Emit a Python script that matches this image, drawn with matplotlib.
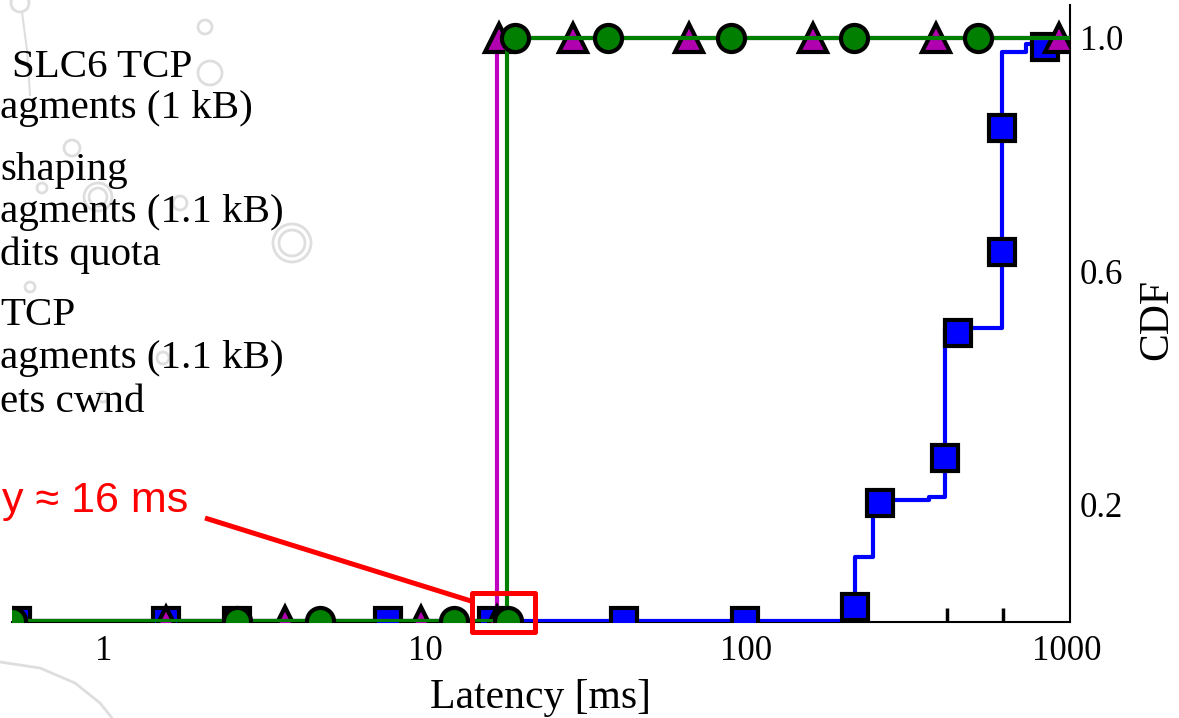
import matplotlib
matplotlib.use("Agg")
import matplotlib.pyplot as plt
from matplotlib.lines import Line2D
from matplotlib.patches import Rectangle, Ellipse
from matplotlib.ticker import FixedLocator, NullFormatter

W, H = 1179, 718

# CDF step curves (latency in ms, cumulative fraction)
blue_x = [0.517, 219, 249, 372, 417, 628, 745, 900, 1021]
blue_y = [0.0, 0.11, 0.208, 0.212, 0.503, 0.976, 0.99, 1.0, 1.0]
magenta_x = [0.517, 16.7, 1021]
magenta_y = [0.0, 1.0, 1.0]
green_x = [0.517, 18.0, 1021]
green_y = [0.0, 1.0, 1.0]

# marker points
sq_x = [0.536, 1.56, 2.60, 7.67, 16.2, 41.7, 99.3, 219, 261, 417, 458, 628, 628, 854]
sq_y = [0, 0, 0, 0, 0, 0, 0, 0.024, 0.202, 0.28, 0.494, 0.633, 0.846, 0.985]
tri_x = [1.56, 3.66, 9.72, 16.7, 17.0, 28.9, 66.4, 162, 391, 944]
tri_y = [0, 0, 0, 0, 1, 1, 1, 1, 1, 1]
circ_x = [0.517, 2.60, 4.71, 12.3, 18.1, 19.1, 37.2, 89.8, 217, 528]
circ_y = [0, 0, 0, 0, 0, 1, 1, 1, 1, 1]

xticks = [1, 10, 100, 1000]
xtick_labels = ["1", "10", "100", "1000"]
yticks = [0.2, 0.6, 1.0]
ytick_labels = ["0.2", "0.6", "1.0"]

legend_lines = [
    ("SLC6 TCP", 12, 77),
    ("agments (1 kB)", 0, 118),
    ("shaping", 0, 180),
    ("agments (1.1 kB)", 0, 222),
    ("dits quota", 0, 265),
    ("TCP", 0, 325),
    ("agments (1.1 kB)", 0, 368),
    ("ets cwnd", 0, 412),
]

serif = "Liberation Serif"
sans = "Liberation Sans"

fig = plt.figure(figsize=(W / 100, H / 100), dpi=100)


def fx(px):
    return px / W


def fy(py):
    return 1 - py / H


# faint background decoration
deco = "#dedede"
rings = [(20, 3, 9), (205, 27, 7), (210, 73, 12), (72, 148, 8), (42, 188, 5),
         (98, 197, 14), (98, 197, 9), (180, 203, 7), (292, 243, 19),
         (292, 243, 13), (30, 287, 5), (163, 358, 6), (103, 397, 5)]
for px, py, r in rings:
    fig.add_artist(Ellipse((fx(px), fy(py)), 2 * r / W, 2 * r / H,
                           transform=fig.transFigure, fill=False,
                           edgecolor=deco, lw=2, zorder=0))
fig.add_artist(Line2D([fx(22), fx(27), fx(30)], [fy(12), fy(50), fy(95)],
                      transform=fig.transFigure, color=deco, lw=1.5, zorder=0))
fig.add_artist(Line2D([fx(0), fx(40), fx(75), fx(100), fx(112)],
                      [fy(662), fy(668), fy(683), fy(703), fy(718)],
                      transform=fig.transFigure, color=deco, lw=2, zorder=0))

ax = fig.add_axes([fx(12), 1 - 622 / H, (1070 - 12) / W, (622 - 5) / H])
ax.patch.set_alpha(0)

ms = 18.5
mew = 3
ax.plot(blue_x, blue_y, drawstyle="steps-post", color="#0000ff", lw=3, zorder=2)
ax.plot(sq_x, sq_y, ls="none", marker="s", ms=ms, mfc="#0000ff", mec="black",
        mew=mew, zorder=2.1)
ax.plot(magenta_x, magenta_y, drawstyle="steps-post", color="#c000c0", lw=3, zorder=2.2)
ax.plot(tri_x, tri_y, ls="none", marker="^", ms=ms + 1, mfc="#b000b0", mec="black",
        mew=mew, zorder=2.3)
ax.plot(green_x, green_y, drawstyle="steps-post", color="#007f00", lw=3, zorder=2.4)
ax.plot(circ_x, circ_y, ls="none", marker="o", ms=ms + 1, mfc="#007f00", mec="black",
        mew=mew, zorder=2.5)

ax.set_xscale("log")
ax.set_xlim(0.517, 1021)
ax.set_ylim(-0.0017, 1.0566)

for s in ["left", "top"]:
    ax.spines[s].set_visible(False)
for s in ["right", "bottom"]:
    ax.spines[s].set_linewidth(1.5)
    ax.spines[s].set_zorder(1.5)

ax.set_xticks(xticks)
ax.set_xticklabels(xtick_labels, fontfamily=serif, fontsize=25)
ax.xaxis.set_minor_locator(FixedLocator([423, 631]))
ax.xaxis.set_minor_formatter(NullFormatter())
ax.tick_params(axis="x", which="major", length=0, pad=9)
ax.tick_params(axis="x", which="minor", direction="in", length=10, width=2.5)

ax.yaxis.tick_right()
ax.set_yticks(yticks)
ax.set_yticklabels(ytick_labels, fontfamily=serif, fontsize=25)
ax.tick_params(axis="y", which="both", length=0, pad=7)
ax.yaxis.set_minor_locator(FixedLocator([]))

ax.set_xlabel("Latency [ms]", fontfamily=serif, fontsize=30)
ax.xaxis.set_label_coords(0.5, -0.092)
ax.yaxis.set_label_position("right")
ax.set_ylabel("CDF", fontfamily=serif, fontsize=30)
ax.yaxis.set_label_coords(1.064, 0.49)

# legend text (cropped on the left in the original)
for txt, px, py in legend_lines:
    fig.text(fx(px), fy(py), txt, fontfamily=serif, fontsize=29.5,
             ha="left", va="baseline", color="black")

# red annotation
fig.text(fx(188), fy(512), "y \u2248 16 ms", fontfamily=sans, fontsize=31,
         color="#ff0000", ha="right", va="baseline")
fig.add_artist(Line2D([fx(205), fx(471)], [fy(518), fy(601)],
                      transform=fig.transFigure, color="#ff0000", lw=3.6,
                      solid_capstyle="butt", zorder=5))
ax.add_patch(Rectangle((14.0, -0.019), 22.0 - 14.0, 0.048 + 0.019, fill=False,
                       edgecolor="#ff0000", lw=3.6, joinstyle="round",
                       clip_on=False, zorder=6))

fig.savefig("out.png", dpi=100)
